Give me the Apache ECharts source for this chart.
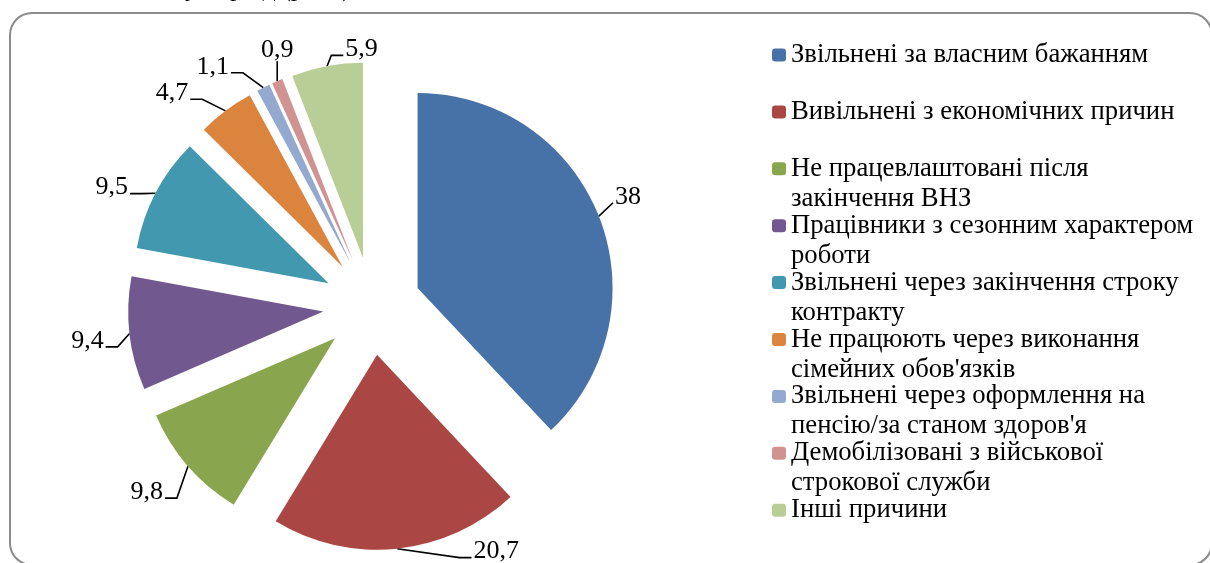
<!DOCTYPE html>
<html>
<head>
<meta charset="utf-8">
<script src="https://cdn.jsdelivr.net/npm/echarts@6/dist/echarts.min.js"></script>
<style>
html, body { margin: 0; padding: 0; background: #fff; }
#main { width: 1210px; height: 563px; }
</style>
</head>
<body>
<div id="main"></div>
<script>
// причини незайнятості, %
const categories = [
    'Звільнені за власним бажанням',
    'Вивільнені з економічних причин',
    'Не працевлаштовані після закінчення ВНЗ',
    'Працівники з сезонним характером роботи',
    'Звільнені через закінчення строку контракту',
    "Не працюють через виконання сімейних обов'язків",
    "Звільнені через оформлення на пенсію/за станом здоров'я",
    'Демобілізовані з військової строкової служби',
    'Інші причини'
];
// як у легенді, з переносами
const legendLines = [
    'Звільнені за власним бажанням',
    'Вивільнені з економічних причин',
    'Не працевлаштовані після\nзакінчення ВНЗ',
    'Працівники з сезонним характером\nроботи',
    'Звільнені через закінчення строку\nконтракту',
    "Не працюють через виконання\nсімейних обов'язків",
    "Звільнені через оформлення на\nпенсію/за станом здоров'я",
    'Демобілізовані з військової\nстрокової служби',
    'Інші причини'
];
const values = [38, 20.7, 9.8, 9.4, 9.5, 4.7, 1.1, 0.9, 5.9];
const colors = ['#4672a8', '#aa4744', '#89a54e', '#71588f', '#4198af', '#db843d', '#93a9cf', '#d19392', '#b9cd96'];

// зсув підписів відносно стандартного місця
const labelShift = [[-12, -15], [58, -9], [1, 18], [3, 6], [0, 0], [-13, -8], [-12, -10], [38, -20], [70, -5]];

const serif = 'Liberation Serif';

let chart = echarts.init(document.getElementById('main'));

const legendText = {
    fontFamily: serif,
    fontSize: 26.7,
    lineHeight: 30,
    color: '#000'
};

// кожен пункт легенди окремо: квадрат біля першого рядка, другий рядок нижче
let legends = [];
categories.forEach((name, i) => {
    const parts = legendLines[i].split('\n');
    const y = 55 + i * 56.9;
    legends.push({
        left: 772,
        top: y - 15,
        padding: 0,
        itemWidth: 14,
        itemHeight: 13,
        selectedMode: false,
        formatter: () => parts[0],
        textStyle: legendText,
        data: [name]
    });
    if (parts[1]) {
        legends.push({
            left: 772,
            top: y + 15,
            padding: 0,
            itemWidth: 14,
            itemHeight: 13,
            selectedMode: false,
            formatter: () => parts[1],
            textStyle: legendText,
            data: [{ name: name, icon: 'none' }]
        });
    }
});

// виноска від краю сектора до зсунутого підпису
function placeLabel(p) {
    const i = p.dataIndex;
    const dx = labelShift[i][0], dy = labelShift[i][1];
    const r = p.labelRect;
    const x = r.x + dx, y = r.y + dy, w = r.width, h = r.height;
    const p0 = p.labelLinePoints[0];
    let pts;
    if (p0[0] > x && p0[0] < x + w) {
        pts = [p0, [p0[0], y + h - 2]];
    } else {
        const right = x > p0[0];
        const end = [right ? x - 2 : x + w + 2, y + h / 2 + 6];
        const bendX = right ? end[0] - 12 : end[0] + 12;
        const bend = Math.abs(bendX - p0[0]) > 4 && (right ? bendX > p0[0] : bendX < p0[0]) ? [bendX, end[1]] : end;
        pts = [p0, bend, end];
    }
    return { hideOverlap: false, dx: dx, dy: dy, labelLinePoints: pts };
}

chart.setOption({
    animation: false,
    title: {
        text: 'у період (рис. )',
        left: 185,
        top: -24,
        padding: 0,
        textStyle: { fontFamily: serif, fontSize: 26, fontWeight: 'normal', color: '#000' }
    },
    graphic: [{
        type: 'rect',
        shape: { x: 10, y: 13, width: 1202, height: 552, r: 22 },
        style: { fill: 'none', stroke: '#8c8c8c', lineWidth: 2 },
        silent: true
    }],
    color: colors,
    legend: legends,
    series: [{
        type: 'pie',
        center: [372, 306],
        radius: 195,
        startAngle: 90,
        clockwise: true,
        selectedMode: 'multiple',
        selectedOffset: 49,
        avoidLabelOverlap: false,
        emphasis: { disabled: true },
        label: {
            show: true,
            position: 'outside',
            fontFamily: serif,
            fontSize: 26,
            color: '#000',
            formatter: p => String(p.value).replace('.', ',')
        },
        labelLine: {
            show: true,
            length: 12,
            length2: 12,
            lineStyle: { color: '#000', width: 1.6 }
        },
        labelLayout: placeLabel,
        data: categories.map((name, i) => ({ name: name, value: values[i], selected: true }))
    }]
});
</script>
</body>
</html>
